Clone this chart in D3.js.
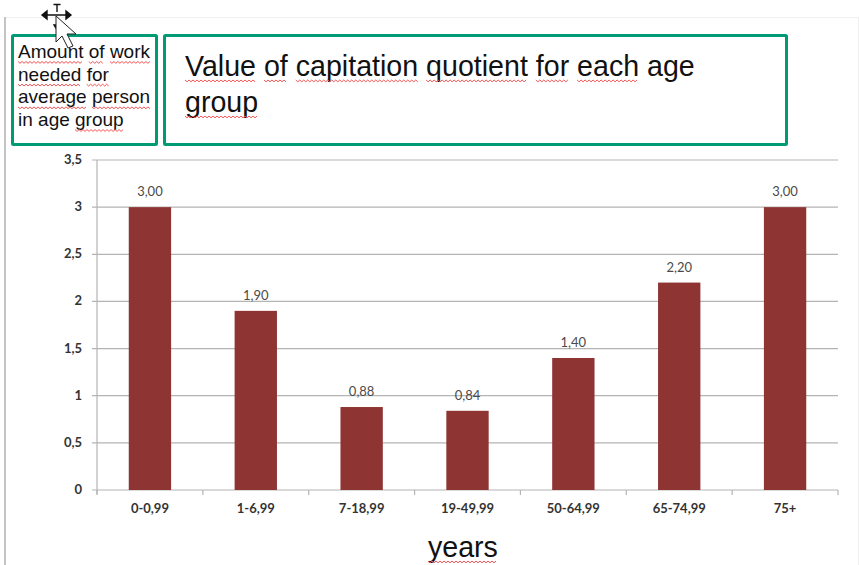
<!DOCTYPE html>
<html>
<head>
<meta charset="utf-8">
<script src="https://cdn.jsdelivr.net/npm/d3@7"></script>
<style>
  html, body { margin: 0; padding: 0; background: #fff; }
  svg { display: block; }
  .box-text { font-family: "Liberation Sans", Arial, sans-serif; fill: #111; }
  .tick-label { font-family: Lato, sans-serif; font-weight: 700; font-size: 13px; fill: #333; }
  .bar-label { font-family: Lato, sans-serif; font-size: 13px; fill: #4a4a4a; }
</style>
</head>
<body>
<div id="chart"></div>
<script>
var categories = ['0-0,99', '1-6,99', '7-18,99', '19-49,99', '50-64,99', '65-74,99', '75+'];
var barValues = [3.00, 1.90, 0.88, 0.84, 1.40, 2.20, 3.00];
var barLabels = ['3,00', '1,90', '0,88', '0,84', '1,40', '2,20', '3,00'];
var yTicks = [0, 0.5, 1, 1.5, 2, 2.5, 3, 3.5];
var yTickLabels = ['0', '0,5', '1', '1,5', '2', '2,5', '3', '3,5'];

var sideLines = ['Amount of work', 'needed for', 'average person', 'in age group'];
var titleLines = ['Value of capitation quotient for each age', 'group'];
var axisWord = 'years';
// words the spell checker flagged, per line
var sideFlags = [['Amount', 'of', 'work'], ['needed', 'for'], ['average', 'person'], ['group']];
var titleFlags = [['Value', 'of', 'capitation', 'quotient', 'for', 'each'], ['group']];

var width = 860, height = 565;
var barColor = '#8e3533', gridColor = '#b4b4b4', boxColor = '#009a74';

var root = d3.select('#chart').append('svg')
  .attr('width', width)
  .attr('height', height);

// slide edge behind the chart
root.append('path')
  .attr('d', 'M4.5,565V17.5H858.5V565')
  .attr('fill', 'none')
  .attr('stroke', '#f0f0f0');
root.append('line')
  .attr('x1', 5).attr('x2', 5).attr('y1', 17).attr('y2', 565)
  .attr('stroke', '#c4c4c4').attr('stroke-width', 2);

var x = d3.scaleBand().domain(categories).range([97, 838]).paddingInner(0.6).paddingOuter(0.3);
var xEdges = d3.scaleLinear().domain([0, categories.length]).range([97, 838]);
var y = d3.scaleLinear().domain([0, 3.5]).range([490, 160]);

var chart = root.append('g').attr('class', 'chart-wrapper');

chart.selectAll('.grid')
  .data(yTicks)
  .enter()
  .append('line')
  .attr('class', 'grid')
  .attr('x1', 92)
  .attr('x2', 838)
  .attr('y1', function (d) { return y(d); })
  .attr('y2', function (d) { return y(d); })
  .attr('stroke', gridColor)
  .attr('stroke-width', 1.2);

chart.append('line')
  .attr('x1', 97).attr('x2', 97)
  .attr('y1', y(3.5)).attr('y2', 494)
  .attr('stroke', gridColor).attr('stroke-width', 1.2);

chart.selectAll('.x-tick')
  .data(d3.range(categories.length + 1))
  .enter()
  .append('line')
  .attr('class', 'x-tick')
  .attr('x1', function (d) { return xEdges(d); })
  .attr('x2', function (d) { return xEdges(d); })
  .attr('y1', 490)
  .attr('y2', 495)
  .attr('stroke', gridColor)
  .attr('stroke-width', 1.2);

chart.selectAll('.bar')
  .data(barValues)
  .enter()
  .append('rect')
  .attr('class', 'bar')
  .attr('x', function (d, i) { return x(categories[i]); })
  .attr('y', function (d) { return y(d); })
  .attr('width', x.bandwidth())
  .attr('height', function (d) { return y(0) - y(d); })
  .attr('fill', barColor);

chart.selectAll('.bar-label')
  .data(barValues)
  .enter()
  .append('text')
  .attr('class', 'bar-label')
  .attr('x', function (d, i) { return x(categories[i]) + x.bandwidth() / 2; })
  .attr('y', function (d) { return y(d) - 11; })
  .attr('text-anchor', 'middle')
  .text(function (d, i) { return barLabels[i]; });

chart.selectAll('.y-label')
  .data(yTicks)
  .enter()
  .append('text')
  .attr('class', 'tick-label y-label')
  .attr('x', 82)
  .attr('y', function (d) { return y(d) + 4; })
  .attr('text-anchor', 'end')
  .text(function (d, i) { return yTickLabels[i]; });

chart.selectAll('.x-label')
  .data(categories)
  .enter()
  .append('text')
  .attr('class', 'tick-label x-label')
  .attr('x', function (d) { return x(d) + x.bandwidth() / 2; })
  .attr('y', 513)
  .attr('text-anchor', 'middle')
  .text(function (d) { return d; });

function drawBox(bx, by, bw, bh) {
  root.append('rect')
    .attr('x', bx).attr('y', by)
    .attr('width', bw).attr('height', bh)
    .attr('fill', 'none')
    .attr('stroke', boxColor)
    .attr('stroke-width', 3)
    .attr('rx', 1);
}

function squiggle(x0, x1, yy) {
  var pts = [], px = x0, up = true;
  while (px < x1) {
    pts.push([px, yy + (up ? 0 : 1.8)]);
    px += 2;
    up = !up;
  }
  root.append('path')
    .attr('d', d3.line()(pts))
    .attr('fill', 'none')
    .attr('stroke', '#f25555')
    .attr('stroke-width', 1);
}

// one text line, then the spell check marks under the flagged words
function drawLine(str, flags, tx, ty, size, offset) {
  var t = root.append('text')
    .attr('class', 'box-text')
    .attr('x', tx)
    .attr('y', ty)
    .attr('font-size', size)
    .text(str);
  var node = t.node();
  var pos = 0;
  str.split(' ').forEach(function (word) {
    if (flags.indexOf(word) >= 0) {
      var a = node.getSubStringLength(0, pos);
      var b = node.getSubStringLength(0, pos + word.length);
      squiggle(tx + a, tx + b, ty + offset);
    }
    pos += word.length + 1;
  });
}

drawBox(12.5, 35.5, 144, 109);
drawBox(164.5, 35.5, 622, 109);

sideLines.forEach(function (l, i) {
  drawLine(l, sideFlags[i], 18, 58 + i * 22.7, 19, 3.5);
});
titleLines.forEach(function (l, i) {
  drawLine(l, titleFlags[i], 185, 76 + i * 36, 28.6, 4);
});
drawLine(axisWord, [axisWord], 428, 557, 28.6, 4);

// move cursor and arrow caught in the screenshot
var cursor = root.append('g').attr('class', 'cursor');
cursor.append('path')
  .attr('d', 'M42,15H71M42,15l5,-4v8zM71,15l-5,-4v8zM57,5V12M53.5,4.5H60.5M54,25l5,0l-2.5,4z')
  .attr('fill', '#111')
  .attr('stroke', '#111')
  .attr('stroke-width', 1.4);
cursor.append('path')
  .attr('d', 'M56,16V42L62,36L68,48L73,46L67,34H76Z')
  .attr('fill', '#fff')
  .attr('stroke', '#222')
  .attr('stroke-width', 1);
</script>
</body>
</html>
